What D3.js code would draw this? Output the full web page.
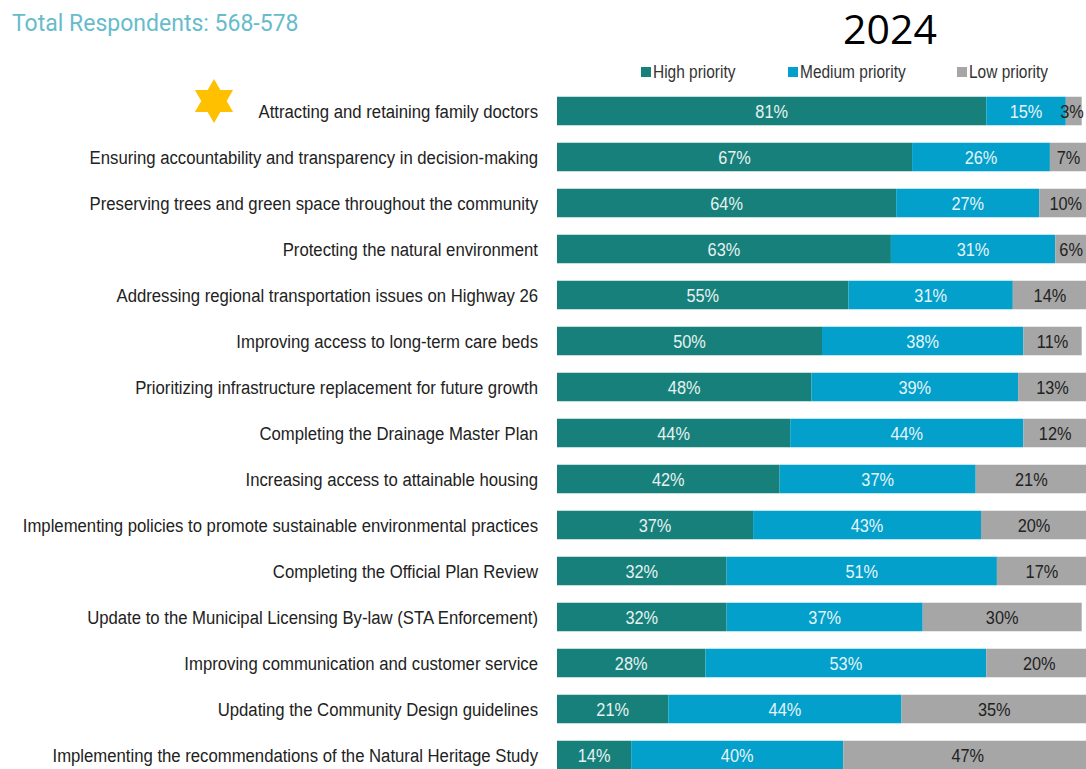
<!DOCTYPE html>
<html lang="en">
<head>
    <meta charset="UTF-8">
    <title>Priorities 2024</title>
    <script src="https://d3js.org/d3.v7.min.js"></script>
    <style>
        body {
            margin: 0;
            padding: 0;
            background: #fff;
        }
        svg {
            display: block;
        }
        .narrow text {
            font-family: "Liberation Sans Narrow", "Arial Narrow", "Liberation Sans", Arial, sans-serif;
        }
    </style>
</head>
<body>
    <div id="chart"></div>

    <script>
        const width = 1086;
        const height = 769;

        const categories = [
            "Attracting and retaining family doctors",
            "Ensuring accountability and transparency in decision-making",
            "Preserving trees and green space throughout the community",
            "Protecting the natural environment",
            "Addressing regional transportation issues on Highway 26",
            "Improving access to long-term care beds",
            "Prioritizing infrastructure replacement for future growth",
            "Completing the Drainage Master Plan",
            "Increasing access to attainable housing",
            "Implementing policies to promote sustainable environmental practices",
            "Completing the Official Plan Review",
            "Update to the Municipal Licensing By-law (STA Enforcement)",
            "Improving communication and customer service",
            "Updating the Community Design guidelines",
            "Implementing the recommendations of the Natural Heritage Study"
        ];
        const high = [81, 67, 64, 63, 55, 50, 48, 44, 42, 37, 32, 32, 28, 21, 14];
        const medium = [15, 26, 27, 31, 31, 38, 39, 44, 37, 43, 51, 37, 53, 44, 40];
        const low = [3, 7, 10, 6, 14, 11, 13, 12, 21, 20, 17, 30, 20, 35, 47];
        const seriesNames = ["High priority", "Medium priority", "Low priority"];
        const colors = ["#17807b", "#02a0cb", "#a6a6a6"];
        const textColors = ["#e6f2f1", "#e6f4f8", "#222"];

        // no narrow font here, so squeeze text horizontally
        const squeeze = 0.86;
        const labelSqueeze = 0.88;

        const rows = categories.map((c, i) => ({ cat: c, High: high[i], Medium: medium[i], Low: low[i] }));
        const keys = ["High", "Medium", "Low"];
        const stacked = d3.stack().keys(keys)(rows);

        const svg = d3.select("#chart")
            .append("svg")
            .attr("width", width)
            .attr("height", height);

        const x = d3.scaleLinear().domain([0, 100]).range([557, 1087]);
        const y = d3.scaleBand().domain(categories).range([88, 778]).paddingInner(0.38).paddingOuter(0.19);

        // title
        svg.append("text")
            .attr("x", 12).attr("y", 31)
            .attr("font-family", "Roboto, 'Open Sans', sans-serif")
            .attr("font-size", 23)
            .attr("fill", "#67bccb")
            .text("Total Respondents: 568-578");

        svg.append("text")
            .attr("x", 890).attr("y", 44)
            .attr("text-anchor", "middle")
            .attr("font-family", "'Open Sans', 'Liberation Sans', sans-serif")
            .attr("font-size", 41)
            .attr("fill", "#000")
            .text("2024");

        // legend
        const legendX = [641, 788, 957];
        const legend = svg.append("g").attr("class", "narrow");
        seriesNames.forEach((name, i) => {
            legend.append("rect")
                .attr("x", legendX[i]).attr("y", 67)
                .attr("width", 10).attr("height", 10)
                .attr("fill", colors[i]);
            legend.append("text")
                .attr("transform", `translate(${legendX[i] + 12},78) scale(${squeeze},1)`)
                .attr("font-size", 18)
                .attr("fill", "#333")
                .text(name);
        });

        // star
        const hexagram = [];
        for (let k = 0; k < 12; k++) {
            const r = k % 2 === 0 ? 22 : 12.7;
            const a = -Math.PI / 2 + k * Math.PI / 6;
            hexagram.push([214 + r * Math.cos(a), 101 + r * Math.sin(a)]);
        }
        svg.append("path")
            .attr("d", d3.line()(hexagram) + "Z")
            .attr("fill", "#ffc000");

        // category labels
        svg.append("g").attr("class", "narrow")
            .selectAll("text")
            .data(categories)
            .enter().append("text")
            .attr("transform", d => `translate(538,${y(d) + y.bandwidth() / 2}) scale(${labelSqueeze},1)`)
            .attr("dy", "0.35em")
            .attr("text-anchor", "end")
            .attr("font-size", 19)
            .attr("fill", "#222")
            .text(d => d);

        // bars
        const layer = svg.append("g")
            .selectAll("g")
            .data(stacked)
            .enter().append("g")
            .attr("fill", (d, i) => colors[i]);

        layer.selectAll("rect")
            .data(d => d)
            .enter().append("rect")
            .attr("x", d => x(d[0]))
            .attr("y", d => y(d.data.cat))
            .attr("width", d => x(d[1]) - x(d[0]))
            .attr("height", y.bandwidth());

        // value labels
        const labels = svg.append("g").attr("class", "narrow");
        stacked.forEach((s, i) => {
            labels.selectAll(null)
                .data(s)
                .enter().append("text")
                .attr("transform", d => `translate(${Math.min((x(d[0]) + x(d[1])) / 2, 1072)},${y(d.data.cat) + y.bandwidth() / 2}) scale(${squeeze},1)`)
                .attr("dy", "0.36em")
                .attr("text-anchor", "middle")
                .attr("font-size", 19)
                .attr("fill", textColors[i])
                .text(d => (d[1] - d[0]) + "%");
        });
    </script>
</body>
</html>
